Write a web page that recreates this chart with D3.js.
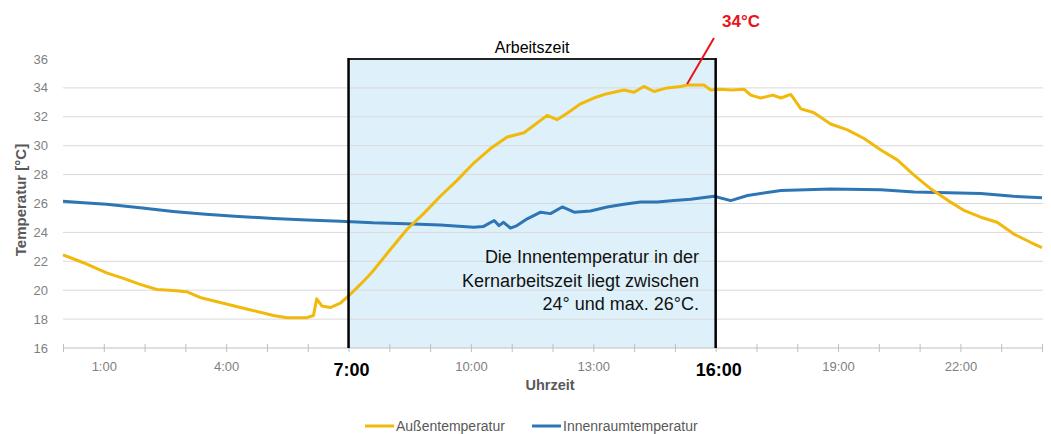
<!DOCTYPE html>
<html>
<head>
<meta charset="utf-8">
<script src="https://cdn.jsdelivr.net/npm/d3@7"></script>
<style>
    body { margin: 0; background: #fff; }
    text { font-family: "Liberation Sans", Arial, sans-serif; }
</style>
</head>
<body>
<div id="chart"></div>
<script>

// Data: hours of the day and temperatures
var aussenHours = [0, 0.5, 1.07, 1.5, 1.89, 2.3, 2.7, 3.03, 3.36, 3.93, 4.5, 5.16, 5.49, 5.98, 6.14, 6.22, 6.35, 6.55, 6.8,
    7.0, 7.29, 7.53, 7.62, 8.02, 8.43, 8.84, 9.25, 9.66, 10.07, 10.48, 10.89, 11.3, 11.54, 11.87, 12.11, 12.36, 12.69,
    13.01, 13.34, 13.75, 14.0, 14.24, 14.49, 14.81, 15.14, 15.3, 15.46, 15.71, 15.88, 16.1, 16.4, 16.7, 16.86, 17.1,
    17.4, 17.6, 17.84, 18.09, 18.4, 18.82, 19.23, 19.64, 20.05, 20.46, 20.87, 21.28, 21.7, 22.1, 22.5, 22.9, 23.3, 23.73, 24];
var aussenTemp = [22.45, 21.9, 21.2, 20.8, 20.4, 20.05, 19.98, 19.9, 19.5, 19.1, 18.7, 18.25, 18.1, 18.1, 18.25, 19.4, 18.9, 18.8, 19.1,
    19.6, 20.4, 21.1, 21.4, 22.8, 24.2, 25.3, 26.5, 27.6, 28.8, 29.8, 30.6, 30.9, 31.4, 32.1, 31.8, 32.25, 32.9,
    33.3, 33.6, 33.85, 33.7, 34.1, 33.75, 34.0, 34.1, 34.2, 34.2, 34.2, 33.85, 33.9, 33.85, 33.9, 33.5, 33.3,
    33.5, 33.3, 33.55, 32.55, 32.3, 31.5, 31.1, 30.5, 29.7, 29.0, 27.95, 27.0, 26.2, 25.5, 25.05, 24.7, 23.9, 23.3, 22.95];

var innenHours = [0, 0.5, 1.07, 1.89, 2.7, 3.5, 4.3, 5.16, 5.98, 6.8, 7.6, 8.4, 9.25, 10.07, 10.3, 10.57, 10.69, 10.8, 10.97,
    11.13, 11.38, 11.71, 11.95, 12.24, 12.53, 12.93, 13.34, 13.75, 14.16, 14.57, 14.98, 15.39, 15.96, 16.37, 16.78,
    17.6, 18.82, 20.05, 20.87, 21.7, 22.5, 23.3, 24];
var innenTemp = [26.15, 26.05, 25.95, 25.7, 25.45, 25.25, 25.1, 24.97, 24.85, 24.77, 24.66, 24.6, 24.52, 24.35, 24.4, 24.82, 24.47, 24.7, 24.3,
    24.47, 24.94, 25.4, 25.3, 25.76, 25.4, 25.48, 25.76, 25.95, 26.1, 26.1, 26.2, 26.3, 26.5, 26.2, 26.55,
    26.9, 27.0, 26.95, 26.8, 26.75, 26.7, 26.5, 26.4];

var yTicks = [16, 18, 20, 22, 24, 26, 28, 30, 32, 34, 36];
var xLabelHours = [1, 4, 10, 13, 19, 22];
var workHours = [7, 16];
var workLabels = ["7:00", "16:00"];
var peakHour = 15.3, peakTemp = 34.2;

var legendItems = [
    { name: "Außentemperatur", color: "#f0b90b" },
    { name: "Innenraumtemperatur", color: "#2e75b6" }
];


// --> CREATE SVG DRAWING AREA
var width = 1051,
    height = 434;

var svg = d3.select("#chart").append("svg")
    .attr("width", width)
    .attr("height", height);

svg.append("rect")
    .attr("width", width)
    .attr("height", height)
    .attr("fill", "#fff");


// Scales
var x = d3.scaleLinear()
    .domain([0, 24])
    .range([63, 1042]);

var y = d3.scaleLinear()
    .domain([16, 36])
    .range([348, 59]);


// Arbeitszeit box (fill first, gridlines on top)
svg.append("rect")
    .attr("x", x(workHours[0]))
    .attr("y", y(36))
    .attr("width", x(workHours[1]) - x(workHours[0]))
    .attr("height", y(16) - y(36))
    .attr("fill", "#def1fa");


// Gridlines
svg.selectAll(".grid")
    .data(yTicks.filter(function(d) { return d > 16 && d < 36; }))
    .enter().append("line")
    .attr("class", "grid")
    .attr("x1", x(0))
    .attr("x2", x(24) + 1)
    .attr("y1", function(d) { return y(d); })
    .attr("y2", function(d) { return y(d); })
    .attr("stroke", "#d9d9d9")
    .attr("stroke-width", 1);


// Y axis labels
svg.selectAll(".ylabel")
    .data(yTicks)
    .enter().append("text")
    .attr("class", "ylabel")
    .attr("x", 48)
    .attr("y", function(d) { return y(d); })
    .attr("dy", "0.35em")
    .attr("text-anchor", "end")
    .attr("font-size", 13)
    .attr("fill", "#7f7f7f")
    .text(function(d) { return d; });


// X axis (ticks every hour, labels every 3h except the bold ones)
var xAxis = d3.axisBottom(x)
    .tickValues(d3.range(0, 25))
    .tickSize(5)
    .tickFormat(function(d) { return xLabelHours.indexOf(d) >= 0 ? d + ":00" : ""; });

var gx = svg.append("g")
    .attr("transform", "translate(0," + y(16) + ")")
    .call(xAxis);

gx.select(".domain")
    .attr("stroke", "#bfbfbf")
    .attr("d", "M" + x(0) + ",0H" + (x(24) + 1));
gx.selectAll(".tick line")
    .attr("stroke", "#bfbfbf")
    .attr("y1", -4)
    .attr("y2", 4);
gx.selectAll(".tick text")
    .attr("y", 14)
    .attr("font-size", 13)
    .attr("font-family", "Liberation Sans, Arial, sans-serif")
    .attr("fill", "#7f7f7f");


// Lines
var line = d3.line()
    .x(function(d) { return x(d[0]); })
    .y(function(d) { return y(d[1]); });

var aussen = aussenHours.map(function(h, i) { return [h, aussenTemp[i]]; });
var innen = innenHours.map(function(h, i) { return [h, innenTemp[i]]; });

svg.append("path")
    .datum(innen)
    .attr("d", line)
    .attr("fill", "none")
    .attr("stroke", "#2e75b6")
    .attr("stroke-width", 3)
    .attr("stroke-linejoin", "round");

svg.append("path")
    .datum(aussen)
    .attr("d", line)
    .attr("fill", "none")
    .attr("stroke", "#f0b90b")
    .attr("stroke-width", 3)
    .attr("stroke-linejoin", "round");


// Box borders
svg.append("line")
    .attr("x1", x(workHours[0]))
    .attr("x2", x(workHours[1]))
    .attr("y1", y(36))
    .attr("y2", y(36))
    .attr("stroke", "#222")
    .attr("stroke-width", 2);

svg.selectAll(".workline")
    .data(workHours)
    .enter().append("line")
    .attr("class", "workline")
    .attr("x1", function(d) { return x(d); })
    .attr("x2", function(d) { return x(d); })
    .attr("y1", y(36) - 1)
    .attr("y2", y(16))
    .attr("stroke", "#000")
    .attr("stroke-width", 2.5);

svg.selectAll(".worklabel")
    .data(workHours)
    .enter().append("text")
    .attr("class", "worklabel")
    .attr("x", function(d) { return x(d) + 3; })
    .attr("y", 376)
    .attr("text-anchor", "middle")
    .attr("font-size", 18)
    .attr("font-weight", "bold")
    .attr("fill", "#000")
    .text(function(d, i) { return workLabels[i]; });

svg.append("text")
    .attr("x", (x(workHours[0]) + x(workHours[1])) / 2)
    .attr("y", 53)
    .attr("text-anchor", "middle")
    .attr("font-size", 16)
    .attr("fill", "#000")
    .text("Arbeitszeit");


// Peak annotation
svg.append("line")
    .attr("x1", x(peakHour))
    .attr("y1", y(peakTemp) - 1)
    .attr("x2", 714)
    .attr("y2", 38)
    .attr("stroke", "#e8141c")
    .attr("stroke-width", 2);

svg.append("text")
    .attr("x", 722)
    .attr("y", 27)
    .attr("font-size", 17)
    .attr("font-weight", "bold")
    .attr("fill", "#e8141c")
    .text(peakTemp.toFixed(0) + "°C");


// Note text
var note = ["Die Innentemperatur in der", "Kernarbeitszeit liegt zwischen", "24° und max. 26°C."];
svg.selectAll(".note")
    .data(note)
    .enter().append("text")
    .attr("class", "note")
    .attr("x", 699)
    .attr("y", function(d, i) { return 263 + i * 23.5; })
    .attr("text-anchor", "end")
    .attr("font-size", 18)
    .attr("fill", "#111")
    .text(function(d) { return d; });


// Axis titles
svg.append("text")
    .attr("x", 550)
    .attr("y", 390)
    .attr("text-anchor", "middle")
    .attr("font-size", 14.5)
    .attr("font-weight", "bold")
    .attr("fill", "#595959")
    .text("Uhrzeit");

svg.append("text")
    .attr("transform", "translate(26,200) rotate(-90)")
    .attr("text-anchor", "middle")
    .attr("font-size", 15)
    .attr("font-weight", "bold")
    .attr("fill", "#595959")
    .text("Temperatur [°C]");


// Legend
var legendX = [365, 532];
var legend = svg.selectAll("g.legend")
    .data(legendItems)
    .enter().append("g")
    .attr("class", "legend")
    .attr("transform", function(d, i) { return "translate(" + legendX[i] + ",426)"; });

legend.append("line")
    .attr("x1", 0)
    .attr("x2", 29)
    .attr("stroke", function(d) { return d.color; })
    .attr("stroke-width", 3);

legend.append("text")
    .attr("x", 31)
    .attr("dy", "0.35em")
    .attr("font-size", 14)
    .attr("fill", "#595959")
    .text(function(d) { return d.name; });

</script>
</body>
</html>
